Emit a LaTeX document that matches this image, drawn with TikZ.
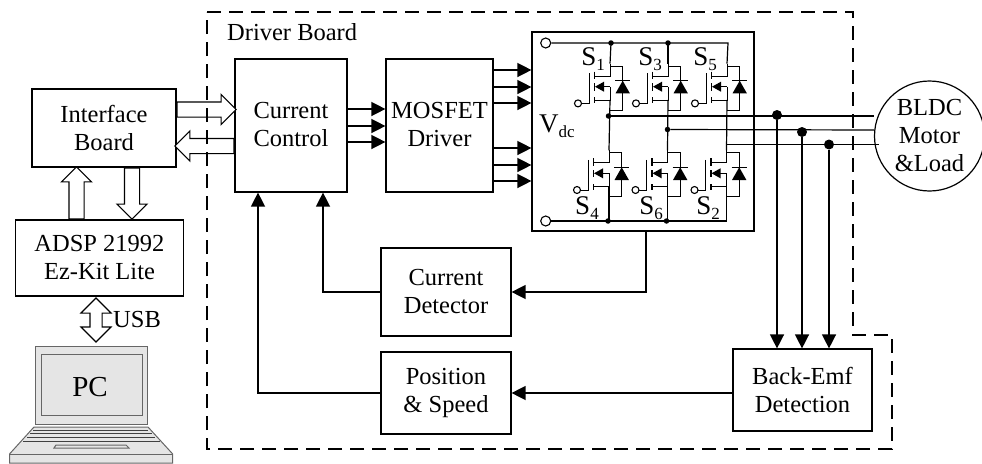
\documentclass[tikz,border=0pt]{standalone}
\usepackage{fontspec}
\setmainfont{Liberation Serif}
\usetikzlibrary{arrows.meta, shapes.arrows}
\def\laptopcolor{black!10!white}
\newcommand{\swname}[2]{{\fontsize{27}{28}\selectfont #1}\raisebox{-5pt}{\fontsize{17}{17}\selectfont #2}}
\tikzset{
	boxnode/.style = {draw, line width = 1.2pt, inner sep = 0pt, align = center, font = \fontsize{24.5}{28}\selectfont},
	textlabel/.style = {inner sep = 0pt, align = center, font = \fontsize{24.5}{28}\selectfont},
	sigarrow/.style = {line width = 1.4pt, -{Triangle[length = 14pt, width = 14pt]}},
	wire/.style = {line width = 1.2pt},
	hollowarrow/.style = {single arrow, draw, fill = white, line width = 1.1pt, inner sep = 7pt, minimum width = 29pt, single arrow head extend = 7.5pt, anchor = tail},
	hollowboth/.style = {double arrow, draw, fill = white, line width = 1.1pt, inner sep = 5.5pt, minimum width = 29pt, double arrow head extend = 9pt},
	bigdot/.style = {circle, fill = black, inner sep = 0pt, minimum size = 10pt},
	smalldot/.style = {circle, fill = black, inner sep = 0pt, minimum size = 5.5pt},
	terminal/.style = {circle, draw, fill = white, line width = 1.1pt, inner sep = 0pt, minimum size = #1},
	mosswitch/.pic = {
		\draw[line width = 1pt] (0, -23) -- (0, -10.7) -- (-15.7, -10.7);
		\draw[line width = 1pt] (-15.7, 13.3) -- (0, 13.3) -- (0, 0);
		\draw[line width = 1pt] (-20.7, -13.5) -- (-20.7, 16.7) -- (-29, 16.7);
		\draw[line width = 1.4pt] (-15.7, -15) -- (-15.7, -7.5) (-15.7, -3.3) -- (-15.7, 4) (-15.7, 10.7) -- (-15.7, 16.7);
		\draw[line width = 1pt] (0, 0) -- (-8, 0);
		\fill (-15, 0) -- (-6, -5) -- (-6, 5) -- cycle;
		\draw[line width = 1pt] (0, -20.7) -- (12.7, -20.7) -- (12.7, 23.3) -- (0, 23.3);
		\fill (12.7, -6) -- (5.5, 6.7) -- (19.9, 6.7) -- cycle;
		\draw[line width = 1pt] (5, -6) -- (20.4, -6);
		\node[terminal = 7pt] (-gate) at (-32, 16.7) {};
		\coordinate (-drain) at (0, -23);
		\coordinate (-source) at (0, 13.3);
	}
}

\begin{document}
\begin{tikzpicture}[x = 1pt, y = -1pt]
	\useasboundingbox (0, 0) rectangle (982, 463);

	% blocks
	\node[boxnode, minimum width = 144pt, minimum height = 78pt] (interface) at (104, 128) {Interface\\Board};
	\node[boxnode, minimum width = 168pt, minimum height = 76pt] (adsp) at (99.5, 258) {ADSP 21992\\Ez-Kit Lite};
	\node[boxnode, minimum width = 112pt, minimum height = 133pt] (control) at (291, 125.5) {};
	\node[textlabel] (controltext) at (291, 125) {Current\\Control};
	\node[boxnode, minimum width = 107pt, minimum height = 133pt] (mosfet) at (439.5, 125.5) {};
	\node[textlabel] (mosfettext) at (439.5, 125) {MOSFET\\Driver};
	\node[boxnode, minimum width = 222pt, minimum height = 199pt] (inverter) at (643, 131.5) {};
	\node[boxnode, minimum width = 130pt, minimum height = 88pt] (detector) at (446, 292) {Current\\Detector};
	\node[boxnode, minimum width = 130pt, minimum height = 82pt] (position) at (446, 393) {Position\\\& Speed};
	\node[boxnode, minimum width = 139pt, minimum height = 82pt] (backemf) at (802.5, 390) {Back-Emf\\Detection};
	\node[boxnode, circle, minimum size = 110pt] (motor) at (929.5, 136) {BLDC\\Motor\\\&Load};

	\node[textlabel, anchor = west] (driverlabel) at (227, 32) {Driver Board};
	\node[textlabel, anchor = west] (usblabel) at (113, 320) {USB};

	% hollow arrows
	\node[hollowarrow, minimum height = 59pt] (ibtocc) at (interface.east |- 0, 109.5) {};
	\node[hollowarrow, minimum height = 59pt, shape border rotate = 180] (cctoib) at (control.west |- 0, 146) {};
	\node[hollowarrow, minimum height = 52pt, shape border rotate = 90] (adsptoib) at (adsp.north -| 76.5, 0) {};
	\node[hollowarrow, minimum height = 51pt, shape border rotate = 270] (ibtoadsp) at (interface.south -| 132, 0) {};
	\node[hollowboth, minimum height = 44pt, shape border rotate = 90] (usbarrow) at (96, 320) {};

	% signal arrows
	\foreach \y in {109, 126, 142}
		\draw[sigarrow] (control.east |- 0, \y) -- (mosfet.west |- 0, \y);
	\foreach \y in {70, 87, 103, 148, 165, 181}
		\draw[sigarrow] (mosfet.east |- 0, \y) -- (inverter.west |- 0, \y);
	\draw[sigarrow] (inverter.south -| 646, 0) -- (646, 292) -- (detector.east);
	\draw[sigarrow] (detector.west) -- (323, 292) -- (control.south -| 323, 0);
	\draw[sigarrow] (backemf.west |- position.east) -- (position.east);
	\draw[sigarrow] (position.west) -- (258, 393) -- (control.south -| 258, 0);

	% switches
	\pic (sw1) at (610, 86.7) {mosswitch};
	\pic (sw3) at (668, 86.7) {mosswitch};
	\pic (sw5) at (727, 86.7) {mosswitch};
	\pic (sw4) at (609, 173.3) {mosswitch};
	\pic (sw6) at (667.5, 173.3) {mosswitch};
	\pic (sw2) at (726.5, 173.3) {mosswitch};

	\node[terminal = 10pt] (vplus) at (545.7, 43) {};
	\node[terminal = 10pt] (vminus) at (545.7, 221) {};
	\draw[wire] (vplus) -- (728, 43) -- (sw5-drain);
	\draw[wire] (vminus) -- (726.5, 221) -- (sw2-source);
	\draw[wire] (611, 43) -- (sw1-drain);
	\draw[wire] (668, 43) -- (sw3-drain);
	\draw[wire] (sw1-source) -- (sw4-drain);
	\draw[wire] (sw3-source) -- (sw6-drain);
	\draw[wire] (sw5-source) -- (sw2-drain);
	\draw[wire] (sw4-source) -- (609, 221);
	\draw[wire] (sw6-source) -- (667.5, 221);
	\node[smalldot] (top1) at (611, 43) {};
	\node[smalldot] (top2) at (668, 43) {};
	\node[smalldot] (bot1) at (608, 221) {};
	\node[smalldot] (bot2) at (666.5, 221) {};
	\node[smalldot] (phasea) at (608.5, 116) {};
	\node[smalldot] (phaseb) at (667.5, 129.5) {};

	% phase lines
	\draw[wire] (phasea) -- (motor.west |- 0, 116);
	\draw[wire] (phaseb) -- (motor.west |- 0, 130);
	\draw[wire] (726.5, 144.5) -- (879, 144.5);
	\node[bigdot] (dota) at (777, 115) {};
	\node[bigdot] (dotb) at (802, 132) {};
	\node[bigdot] (dotc) at (829, 144.5) {};
	\draw[sigarrow] (dota) -- (backemf.north -| 777, 0);
	\draw[sigarrow] (dotb) -- (backemf.north -| 802, 0);
	\draw[sigarrow] (dotc) -- (backemf.north -| 829, 0);

	% switch labels
	\node[textlabel] (s1) at (593, 59) {\swname{S}{1}};
	\node[textlabel] (s3) at (650, 59) {\swname{S}{3}};
	\node[textlabel] (s5) at (705, 59) {\swname{S}{5}};
	\node[textlabel] (s4) at (587, 208) {\swname{S}{4}};
	\node[textlabel] (s6) at (651, 208) {\swname{S}{6}};
	\node[textlabel] (s2) at (708, 208) {\swname{S}{2}};
	\node[textlabel] (vdc) at (557, 126) {\swname{V}{dc}};

	% driver board outline
	\draw[line width = 1.1pt, dash pattern = on 14pt off 8pt] (207, 12) -- (853, 12) -- (853, 335) -- (892, 335) -- (892, 449) -- (207, 449) -- cycle;

	% laptop
	\draw[fill = \laptopcolor, draw = black!60, line width = 1pt] (35, 346) rectangle (147, 424);
	\draw[fill = \laptopcolor, draw = black!60, line width = 1pt] (41.3, 354) rectangle (142, 415);
	\node[textlabel, font = \fontsize{29}{32}\selectfont] (pclabel) at (90, 387) {PC};
	\draw[fill = \laptopcolor, draw = black!60, line width = 1pt] (34, 427) -- (148, 427) -- (172.7, 454) -- (172.7, 463) -- (9.5, 463) -- (9.5, 454) -- cycle;
	\draw[draw = black!60, line width = 1pt] (9.5, 454) -- (172.7, 454);
	\foreach \y/\a/\b in {430/33/148, 433.5/30/151.5, 437.3/27/155, 441.7/23/159.5}
		\draw[draw = black!75, line width = 1pt] (\a, \y) -- (\b, \y);
	\draw[draw = black!60, line width = 1pt] (54, 448) -- (129, 448) -- (126, 445) -- (56, 445) -- cycle;
\end{tikzpicture}
\end{document}
